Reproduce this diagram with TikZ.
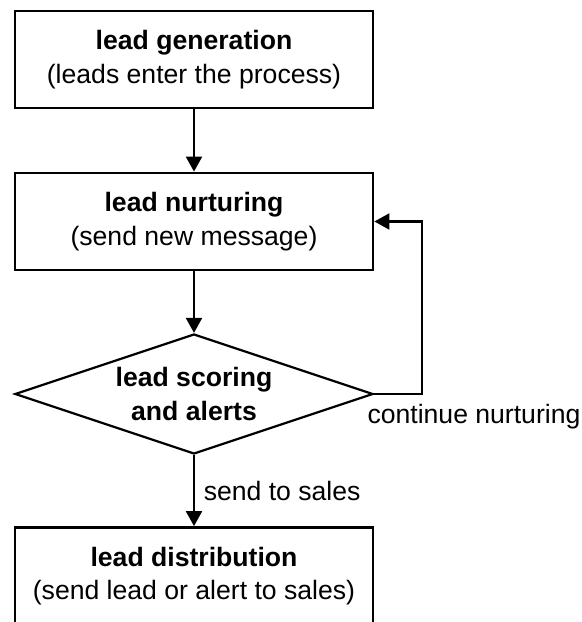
\documentclass[tikz,border=0pt]{standalone}
\usepackage{fontspec}
\setmainfont{Liberation Sans}
\usetikzlibrary{shapes.geometric,arrows.meta}

\tikzset{
    stagebox/.style={draw, line width=1.4pt, minimum width=179pt,
        minimum height=48.5pt, inner sep=0pt, align=center},
    decisionbox/.style={draw, diamond, aspect=3, line width=1.1pt,
        minimum width=179pt, minimum height=60pt, inner sep=0pt,
        align=center},
    flowarrow/.style={line width=1.1pt, -{Triangle[length=7.5pt,width=8pt]}},
    edgelbl/.style={inner sep=2pt}
}

\begin{document}
\begin{tikzpicture}[x=0.5pt, y=-0.5pt,
    every node/.style={font=\fontsize{13.3}{16.8}\selectfont}]
    \useasboundingbox (0, 0) rectangle (582, 622);

    \node[stagebox] (leadgen) at (194, 59.5)
        {\textbf{lead generation}\\(leads enter the process)};
    \node[stagebox] (nurture) at (194, 221.5)
        {\textbf{lead nurturing}\\(send new message)};
    \node[decisionbox] (score) at (194, 394)
        {\textbf{lead scoring}\\\textbf{and alerts}};
    \node[stagebox] (distrib) at (194, 576)
        {\textbf{lead distribution}\\(send lead or alert to sales)};

    \draw[flowarrow] (leadgen) -- (nurture);
    \draw[flowarrow] (nurture) -- (score);
    \draw[flowarrow]
        (score) -- node[right, xshift=1pt] (saleslbl) {send to sales} (distrib);
    \draw[flowarrow]
        (score.east) -- ++(48, 0) |- (nurture.east);

    \node[edgelbl, anchor=north west] (nurturelbl)
        at ([xshift=-5.5pt, yshift=-3pt]score.east) {continue nurturing};
\end{tikzpicture}
\end{document}
